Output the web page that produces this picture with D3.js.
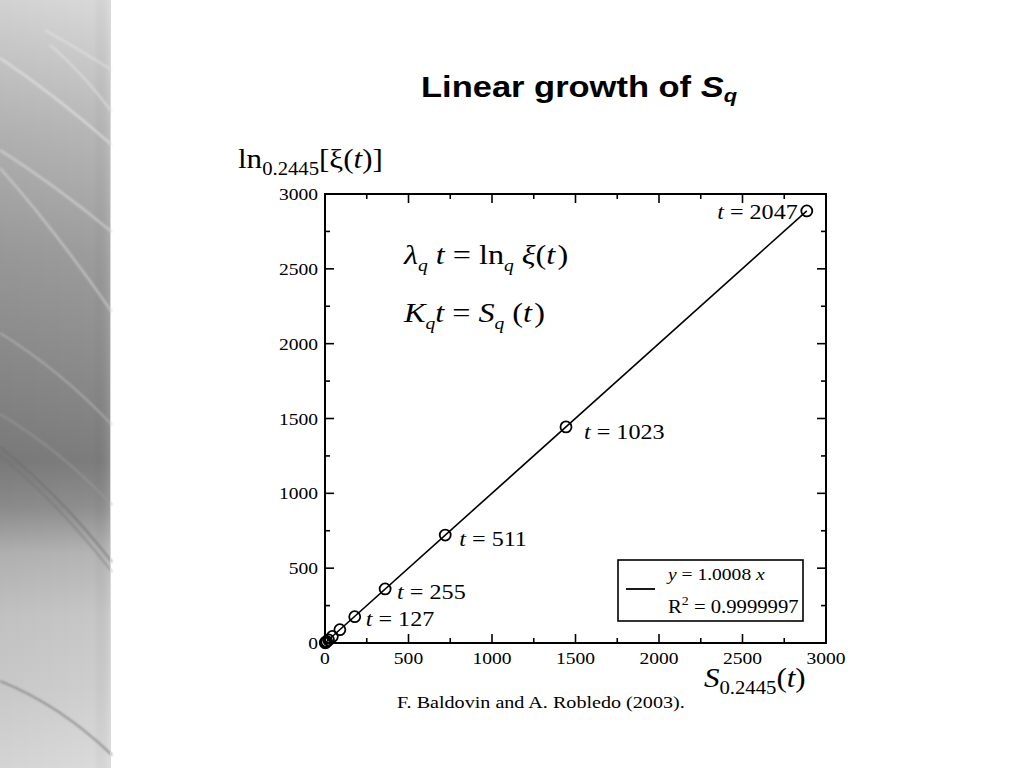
<!DOCTYPE html>
<html><head><meta charset="utf-8">
<script src="https://cdn.jsdelivr.net/npm/d3@7"></script>
<style>body{margin:0;background:#fff}svg{display:block}</style>
</head><body>
<script>
const tValues = [1, 3, 7, 15, 31, 63, 127, 255, 511, 1023, 2047];
const sValues = [1.4, 4.2, 9.9, 21, 44, 89, 178, 360, 720, 1443, 2885];
const lnValues = [1.4, 4.2, 9.9, 21, 44, 89, 176, 361, 721, 1444, 2887];
const xTicks = [0, 500, 1000, 1500, 2000, 2500, 3000];
const yTicks = [0, 500, 1000, 1500, 2000, 2500, 3000];
const fitSlope = 1.0008;
const labeled = [127, 255, 511, 1023, 2047];

const W = 1024, H = 768, SX = 1.15;
const svg = d3.select("body").append("svg").attr("width", W).attr("height", H);

function stext(parent, x, y, opts) {
  const g = parent.append("g").attr("transform", `translate(${x},${y}) scale(${SX},1)`);
  const t = g.append("text").attr("x",0).attr("y",0)
    .attr("font-family", opts.family || "Liberation Serif, Times New Roman, serif")
    .attr("font-size", opts.size).attr("text-anchor", opts.anchor || "start");
  if (opts.weight) t.attr("font-weight", opts.weight);
  return t;
}

// left decorative strip
const defs = svg.append("defs");
const g1 = defs.append("linearGradient").attr("id","strip").attr("x1",0).attr("y1",0).attr("x2",0).attr("y2",1);
[[0,"#d8d8d8"],[0.17,"#b6b6b6"],[0.33,"#9c9c9c"],[0.5,"#888888"],[0.6,"#7c7c7c"],[0.66,"#8e8e8e"],[0.72,"#b4b4b4"],[0.8,"#c6c6c6"],[0.9,"#cecece"],[1,"#dadada"]]
  .forEach(s=>g1.append("stop").attr("offset",s[0]).attr("stop-color",s[1]));
const g2 = defs.append("linearGradient").attr("id","stripH").attr("x1",0).attr("y1",0).attr("x2",1).attr("y2",0);
[[0,"#000",0.03],[0.85,"#000",0],[1,"#fff",0.12]].forEach(s=>g2.append("stop").attr("offset",s[0]).attr("stop-color",s[1]).attr("stop-opacity",s[2]));
const blur = defs.append("filter").attr("id","bl").attr("x","-20%").attr("y","-20%").attr("width","140%").attr("height","140%");
blur.append("feGaussianBlur").attr("stdDeviation",1.3);
svg.append("rect").attr("x",0).attr("y",0).attr("width",110).attr("height",H).attr("fill","url(#strip)");
svg.append("rect").attr("x",0).attr("y",0).attr("width",110).attr("height",H).attr("fill","url(#stripH)");
const strip = svg.append("g").attr("filter","url(#bl)").attr("opacity",0.75);
const streaks = [
  ["M45,30 Q80,50 112,70", "#e6e6e6", 1.5],
  ["M50,45 Q80,70 112,112", "#e2e2e2", 1.8],
  ["M0,58 Q55,95 112,145", "#e4e4e4", 2.2],
  ["M0,150 Q55,185 112,232", "#d6d6d6", 2.2],
  ["M0,168 Q55,230 112,312", "#d2d2d2", 2],
  ["M0,333 Q60,370 112,425", "#b8b8b8", 1.8],
  ["M0,414 Q60,450 112,505", "#9a9a9a", 1.8],
  ["M0,447 Q60,495 112,562", "#6a6a6a", 1.6],
  ["M0,455 Q60,505 112,572", "#707070", 1.2],
  ["M0,681 Q60,705 112,755", "#6e6e6e", 1.8]
];
streaks.forEach(s=>strip.append("path").attr("d",s[0]).attr("fill","none").attr("stroke",s[1]).attr("stroke-width",s[2]));
svg.append("line").attr("x1",110.5).attr("x2",110.5).attr("y1",0).attr("y2",H).attr("stroke","#d8d8d8").attr("stroke-width",1);

// title
const title = stext(svg, 421, 97, {family:"Liberation Sans, Arial, sans-serif", size:30, weight:"bold"});
title.append("tspan").text("Linear growth of ");
title.append("tspan").attr("font-style","italic").text("S");
title.append("tspan").attr("font-style","italic").attr("font-size",19).attr("dy",5).text("q");

// plot
const L = 325, R = 826, T = 194, B = 643;
const x = d3.scaleLinear().domain([0,3000]).range([L,R]);
const y = d3.scaleLinear().domain([0,3000]).range([B,T]);

const plot = svg.append("g");
plot.append("rect").attr("x",L).attr("y",T).attr("width",R-L).attr("height",B-T)
  .attr("fill","none").attr("stroke","#000").attr("stroke-width",2);

const minor = d3.range(250,3000,500);
const tk = plot.append("g").attr("stroke","#000").attr("stroke-width",1.6);
xTicks.slice(1,-1).forEach(v=>{
  tk.append("line").attr("x1",x(v)).attr("x2",x(v)).attr("y1",B).attr("y2",B-9);
  tk.append("line").attr("x1",x(v)).attr("x2",x(v)).attr("y1",T).attr("y2",T+9);
});
minor.forEach(v=>{
  tk.append("line").attr("x1",x(v)).attr("x2",x(v)).attr("y1",B).attr("y2",B-5);
  tk.append("line").attr("x1",x(v)).attr("x2",x(v)).attr("y1",T).attr("y2",T+5);
});
yTicks.slice(1,-1).forEach(v=>{
  tk.append("line").attr("y1",y(v)).attr("y2",y(v)).attr("x1",L).attr("x2",L+9);
  tk.append("line").attr("y1",y(v)).attr("y2",y(v)).attr("x1",R).attr("x2",R-9);
});
minor.forEach(v=>{
  tk.append("line").attr("y1",y(v)).attr("y2",y(v)).attr("x1",L).attr("x2",L+5);
  tk.append("line").attr("y1",y(v)).attr("y2",y(v)).attr("x1",R).attr("x2",R-5);
});

xTicks.forEach(d=>stext(plot, x(d), B+21, {size:17, anchor:"middle"}).text(d));
yTicks.forEach(d=>stext(plot, L-7, y(d)+6, {size:17, anchor:"end"}).text(d));

// fit line
plot.append("line").attr("x1",x(0)).attr("y1",y(0)).attr("x2",x(2885)).attr("y2",y(2885*fitSlope))
  .attr("stroke","#000").attr("stroke-width",1.6);

// points
const pts = tValues.map((t,i)=>({t, s:sValues[i], l:lnValues[i]}));
plot.append("g").selectAll("circle").data(pts).join("circle")
  .attr("cx",d=>x(d.s)).attr("cy",d=>y(d.l)).attr("r",5.5)
  .attr("fill","none").attr("stroke","#000").attr("stroke-width",1.8);

// labels
const labPos = {127:[11,9,"start"],255:[12,10,"start"],511:[14,11,"start"],1023:[18,12,"start"],2047:[-9,8,"end"]};
pts.filter(d=>labeled.includes(d.t)).forEach(d=>{
  const p = labPos[d.t];
  const tx = stext(plot, x(d.s)+p[0], y(d.l)+p[1], {size:21, anchor:p[2]});
  tx.append("tspan").attr("font-style","italic").text("t");
  tx.append("tspan").text(" = "+d.t);
});

// equations
const eq1 = stext(plot, 404, 264, {size:28});
eq1.append("tspan").attr("font-style","italic").text("λ");
eq1.append("tspan").attr("font-style","italic").attr("font-size",17).attr("dy",7).text("q");
eq1.append("tspan").attr("font-style","italic").attr("dy",-7).text(" t");
eq1.append("tspan").text(" = ln");
eq1.append("tspan").attr("font-style","italic").attr("font-size",17).attr("dy",7).text("q");
eq1.append("tspan").attr("font-style","italic").attr("dy",-7).text(" ξ");
eq1.append("tspan").text("(");
eq1.append("tspan").attr("font-style","italic").text("t");
eq1.append("tspan").attr("dx",2).text(")");

const eq2 = stext(plot, 404, 322, {size:28});
eq2.append("tspan").attr("font-style","italic").text("K");
eq2.append("tspan").attr("font-style","italic").attr("font-size",17).attr("dy",7).text("q");
eq2.append("tspan").attr("font-style","italic").attr("dy",-7).text("t");
eq2.append("tspan").text(" = ");
eq2.append("tspan").attr("font-style","italic").text("S");
eq2.append("tspan").attr("font-style","italic").attr("font-size",17).attr("dy",7).text("q");
eq2.append("tspan").attr("dy",-7).text(" (");
eq2.append("tspan").attr("font-style","italic").text("t");
eq2.append("tspan").attr("dx",2).text(")");

// legend
const lg = plot.append("g");
lg.append("rect").attr("x",618).attr("y",560).attr("width",185).attr("height",61)
  .attr("fill","#fff").attr("stroke","#000").attr("stroke-width",1.6);
lg.append("line").attr("x1",626).attr("x2",655).attr("y1",589).attr("y2",589).attr("stroke","#000").attr("stroke-width",1.8);
const l1 = stext(lg, 668, 580, {size:17});
l1.append("tspan").attr("font-style","italic").text("y");
l1.append("tspan").text(" = " + fitSlope.toFixed(4) + " ");
l1.append("tspan").attr("font-style","italic").text("x");
const l2 = stext(lg, 668, 613, {size:18});
l2.append("tspan").text("R");
l2.append("tspan").attr("font-size",12).attr("dy",-8).text("2");
l2.append("tspan").attr("dy",8).text(" = 0.9999997");

// axis labels
const yl = stext(svg, 238, 168, {size:27});
yl.append("tspan").text("ln");
yl.append("tspan").attr("font-size",18).attr("dy",7).text("0.2445");
yl.append("tspan").attr("dy",-7).text("[ξ(");
yl.append("tspan").attr("font-style","italic").text("t");
yl.append("tspan").text(")]");

const xl = stext(svg, 704, 687, {size:27});
xl.append("tspan").attr("font-style","italic").text("S");
xl.append("tspan").attr("font-size",18).attr("dy",7).text("0.2445");
xl.append("tspan").attr("dy",-7).text("(");
xl.append("tspan").attr("font-style","italic").text("t");
xl.append("tspan").text(")");

stext(svg, 397, 708, {size:17.5}).text("F. Baldovin and A. Robledo (2003).");
</script>
</body></html>
